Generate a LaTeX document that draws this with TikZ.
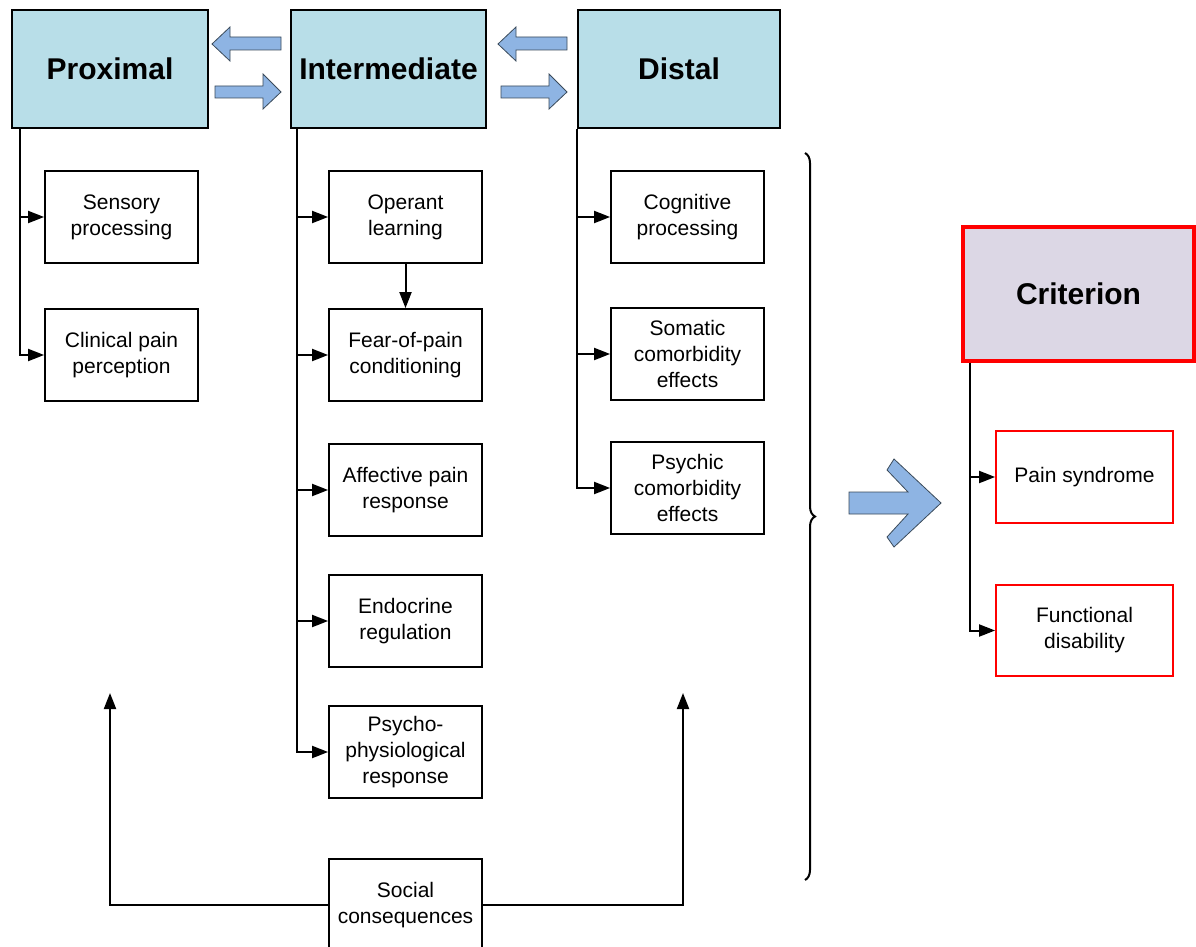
\documentclass[tikz,border=0pt]{standalone}
\usepackage{fontspec}
\setmainfont{Liberation Sans}
\usetikzlibrary{arrows.meta,decorations.pathreplacing}
\definecolor{hdrblue}{HTML}{B8DEE8}
\definecolor{arrblue}{HTML}{8EB4E3}
\definecolor{critfill}{HTML}{DCD7E5}
\definecolor{arredge}{HTML}{3A4A5A}
\begin{document}
\begin{tikzpicture}[x=1pt,y=-1pt,
  hdr/.style={draw=black,line width=2.8pt,fill=hdrblue,inner sep=0pt,align=center,font=\fontsize{30}{36}\selectfont\bfseries},
  itembox/.style={draw=black,line width=1.8pt,fill=white,inner sep=0pt,minimum width=153pt,minimum height=92pt,align=center,font=\fontsize{21}{26}\selectfont},
  redbox/.style={itembox,draw=red,minimum width=177pt},
  conn/.style={line width=2pt,-{Triangle[length=16pt,width=12pt]}},
  blockarrow/.style={fill=arrblue,draw=arredge,line width=0.8pt}]
\useasboundingbox (0,0) rectangle (1196,947);

% headers
\node[hdr,minimum width=196pt,minimum height=118pt] (prox) at (110,69) {Proximal};
\node[hdr,minimum width=195pt,minimum height=118pt] (inter) at (388.5,69) {Intermediate};
\node[hdr,minimum width=202pt,minimum height=118pt] (dist) at (679,69) {Distal};
\node[hdr,draw=red,line width=3.4pt,fill=critfill,minimum width=231pt,minimum height=134pt] (crit) at (1078.5,294) {Criterion};

% item boxes
\node[itembox] (sens) at (121.5,217) {Sensory\\processing};
\node[itembox] (clin) at (121.5,355) {Clinical pain\\perception};
\node[itembox] (oper) at (405.5,217) {Operant\\learning};
\node[itembox] (fear) at (405.5,355) {Fear-of-pain\\conditioning};
\node[itembox] (aff) at (405.5,490) {Affective pain\\response};
\node[itembox] (endo) at (405.5,621) {Endocrine\\regulation};
\node[itembox] (psy) at (405.5,752) {Psycho-\\physiological\\response};
\node[itembox] (cog) at (687.5,217) {Cognitive\\processing};
\node[itembox] (som) at (687.5,354) {Somatic\\comorbidity\\effects};
\node[itembox] (psych) at (687.5,488) {Psychic\\comorbidity\\effects};
\node[redbox] (pain) at (1084.5,477) {Pain syndrome};
\node[redbox,minimum height=91pt] (func) at (1084.5,630.5) {Functional\\disability};
\node[itembox] (soc) at (405.5,905) {Social\\consequences};

% trunks and branches
\draw[conn] ([xshift=9pt]prox.south west) |- (sens.west);
\draw[conn] ([xshift=9pt]prox.south west) |- (clin.west);
\foreach \n in {oper,fear,aff,endo,psy}
  \draw[conn] ([xshift=7pt]inter.south west) |- (\n.west);
\draw[conn] (oper) -- (fear);
\foreach \n in {cog,som,psych}
  \draw[conn] ([xshift=0pt]dist.south west) |- (\n.west);
\draw[conn] ([xshift=9pt]crit.south west) |- (pain.west);
\draw[conn] ([xshift=9pt]crit.south west) |- (func.west);

% social consequences
\coordinate (la) at (110,693);
\coordinate (ra) at (683,693);
\draw[conn] (soc.west) -| (la);
\draw[conn] (soc.east) -| (ra);

% block arrows between headers
\foreach \dx in {0,286}{
  \draw[blockarrow] (212+\dx,44) -- (230+\dx,27) -- (230+\dx,37) -- (281+\dx,37) -- (281+\dx,50) -- (230+\dx,50) -- (230+\dx,61) -- cycle;
  \draw[blockarrow] (281+\dx,92) -- (263+\dx,74) -- (263+\dx,86) -- (215+\dx,86) -- (215+\dx,98) -- (263+\dx,98) -- (263+\dx,109) -- cycle;
}

% brace
\draw[line width=2pt,decorate,decoration={brace,amplitude=10pt}] (805,153) -- (805,880);

% big arrow
\draw[blockarrow] (849,492) -- (908,492) -- (887,470) -- (894,459) -- (941,503) -- (894,547) -- (887,537) -- (908,514) -- (849,514) -- cycle;
\end{tikzpicture}
\end{document}
